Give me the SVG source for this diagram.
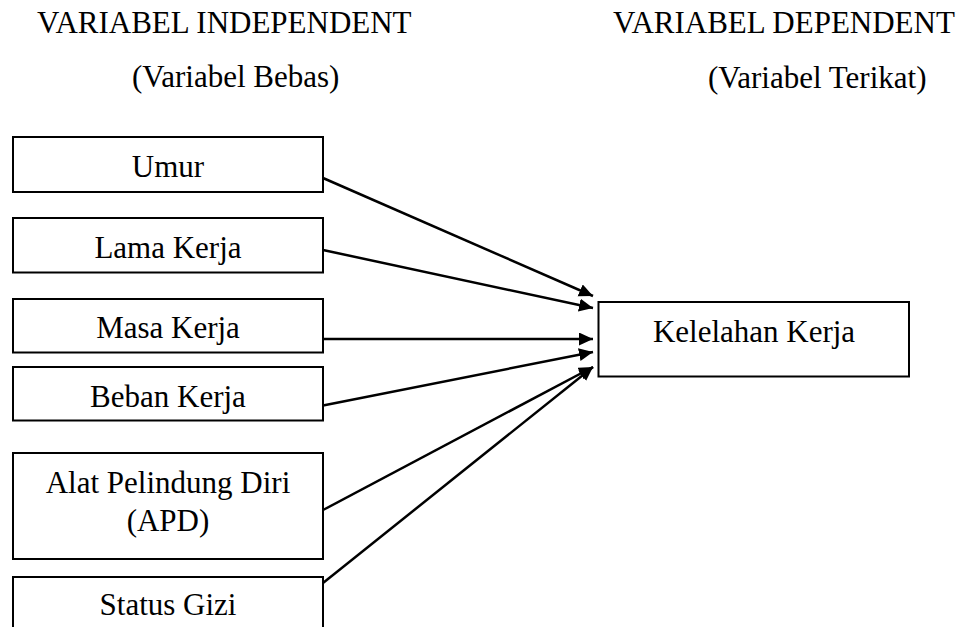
<svg xmlns="http://www.w3.org/2000/svg" width="974" height="627" viewBox="0 0 974 627">
<style>
text { font-family: "Liberation Serif", "Times New Roman", serif; font-size: 31px; fill: #000; }
.c { text-anchor: middle; }
.box { fill: #fff; stroke: #000; stroke-width: 2; }
.arr { stroke: #000; stroke-width: 2.5; fill: none; marker-end: url(#ah); }
</style>
<defs>
<marker id="ah" markerUnits="userSpaceOnUse" markerWidth="15" markerHeight="14" refX="14" refY="6.5" orient="auto" viewBox="0 0 15 14">
<path d="M0,0 L14,6.5 L0,13 z" fill="#000"/>
</marker>
</defs>
<rect width="974" height="627" fill="#fff"/>
<g id="headers">
<text x="37" y="33">VARIABEL INDEPENDENT</text>
<text x="132" y="87">(Variabel Bebas)</text>
<text x="613" y="33">VARIABEL DEPENDENT</text>
<text x="708" y="88">(Variabel Terikat)</text>
</g>
<g id="connectors">
<line class="arr" x1="323" y1="178" x2="593" y2="296"/>
<line class="arr" x1="323" y1="250" x2="593" y2="308"/>
<line class="arr" x1="323" y1="339" x2="593" y2="339"/>
<line class="arr" x1="323" y1="405.5" x2="593" y2="352"/>
<line class="arr" x1="323" y1="510" x2="593" y2="367"/>
<line class="arr" x1="323" y1="583" x2="593" y2="367"/>
</g>
<g id="umur">
<rect class="box" x="13" y="137" width="310" height="55"/>
<text class="c" x="168" y="177">Umur</text>
</g>
<g id="lama-kerja">
<rect class="box" x="13" y="218" width="310" height="54.5"/>
<text class="c" x="168" y="258">Lama Kerja</text>
</g>
<g id="masa-kerja">
<rect class="box" x="13" y="299" width="310" height="53.5"/>
<text class="c" x="168" y="338">Masa Kerja</text>
</g>
<g id="beban-kerja">
<rect class="box" x="13" y="367" width="310" height="53.5"/>
<text class="c" x="168" y="406.5">Beban Kerja</text>
</g>
<g id="apd">
<rect class="box" x="13" y="453" width="310" height="106"/>
<text class="c" x="168" y="493">Alat Pelindung Diri</text>
<text class="c" x="168" y="530.5">(APD)</text>
</g>
<g id="status-gizi">
<rect class="box" x="13" y="577" width="310" height="70"/>
<text class="c" x="168" y="615">Status Gizi</text>
</g>
<g id="kelelahan-kerja">
<rect class="box" x="598.5" y="302" width="310.5" height="74.5"/>
<text class="c" x="754" y="341.5">Kelelahan Kerja</text>
</g>
</svg>
